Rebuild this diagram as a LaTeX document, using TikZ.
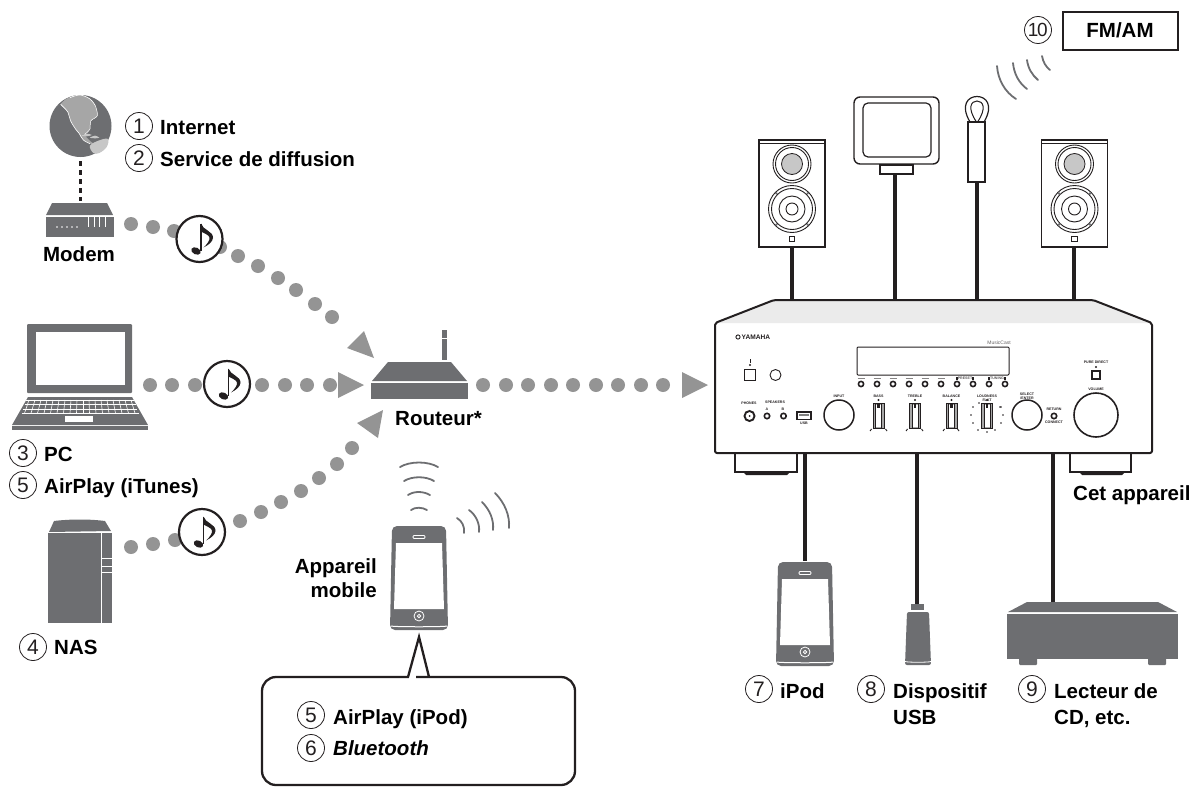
\documentclass[tikz,border=0pt]{standalone}
\usepackage{fontspec}
\setmainfont{Liberation Sans}
\definecolor{devgray}{HTML}{6D6E71}
\definecolor{dotgray}{HTML}{949494}
\definecolor{ink}{HTML}{231F20}
\tikzset{
  lbl/.style={font=\fontsize{20.5}{20.5}\selectfont\bfseries,text=black,inner sep=0pt,anchor=base west},
  cnum/.style={circle,draw=ink,line width=0.8pt,minimum size=27pt,inner sep=0pt,font=\fontsize{21}{21}\selectfont,text=ink},
  dotn/.style={circle,fill=dotgray,minimum size=14pt,inner sep=0pt},
  notec/.style={circle,draw=ink,fill=white,line width=2.2pt,minimum size=46pt,inner sep=0pt},
  arrowtri/.style={fill=dotgray,draw=none},
  dev/.style={fill=devgray,draw=none},
  cable/.style={draw=ink,line width=4pt},
  wave/.style={draw=devgray,line width=1.8pt,line cap=round},
  tiny/.style={font=\fontsize{3.6}{3.6}\selectfont\bfseries,text=ink,inner sep=0pt},
  notepic/.pic={
    \fill[ink,rotate around={-25:(-3.5,12)}] (-3.5,12) ellipse (5 and 3.4);
    \fill[ink] (0.6,11.5) -- (0.6,-15.5) -- (2,-15.5) -- (2,11.5) -- cycle;
    \fill[ink] (1.5,-15.5) .. controls (3,-9) and (14,-8) .. (13.5,-1) .. controls (13,3) and (9,6) .. (4,8.5) .. controls (8,5) and (10.5,1) .. (10,-1.5) .. controls (9.5,-4) and (5,-5.5) .. (1.5,-7.5) -- cycle;
  },
  phonepic/.pic={
    \fill[devgray,rounded corners=5pt] (-27,0) -- (27,0) -- (29,104) -- (-29,104) -- cycle;
    \draw[white,line width=1pt] (-28,100) .. controls (-26,101) and (26,101) .. (28,100);
    \fill[white] (-23,17) -- (23,17) -- (25,83) -- (-25,83) -- cycle;
    \draw[white,line width=0.8pt,rounded corners=1pt] (-6,9.5) rectangle (6,12.5);
    \draw[white,line width=0.8pt] (0,90) circle (5);
    \draw[white,line width=0.8pt] (0,90) circle (1.7);
  },
  speakerpic/.pic={
    \draw[ink,line width=1.1pt,fill=white] (-33,0) rectangle (33,107);
    \draw[ink,line width=0.9pt] (-33,3) -- (33,3);
    \draw[ink,line width=0.9pt] (0,24) circle (19);
    \draw[ink,line width=0.9pt] (0,24) circle (16.5);
    \draw[ink,line width=0.8pt,fill=black!22] (0,24) circle (10.5);
    \draw[ink,line width=0.9pt] (0,69) circle (23.5);
    \draw[ink,line width=0.9pt] (0,69) circle (20.5);
    \draw[ink,line width=0.9pt] (0,69) circle (13);
    \draw[ink,line width=0.9pt] (0,69) circle (6);
    \foreach \a in {45,135,225,315}{\fill[devgray] (\a:22) ++(0,69) circle (1.3);}
    \draw[ink,line width=0.8pt] (-2.7,96) rectangle (2.7,101.5);
  },
  sliderpic/.pic={
    \draw[ink,line width=1pt,fill=black!35] (-5.5,0) rectangle (5.5,25);
    \fill[white] (-3,1.5) rectangle (3,24);
    \draw[ink,line width=0.7pt] (-3,0) -- (-3,25) (3,0) -- (3,25);
    \fill[ink] (-1.3,0) rectangle (1.3,5);
    \fill[ink] (0,-3) circle (1.1);
  }
}
\begin{document}
\begin{tikzpicture}[x=1pt,y=-1pt]
\useasboundingbox (0,0) rectangle (1193,787);

% ---------- Globe
\node[circle,fill=devgray,minimum size=62pt,inner sep=0pt] (globe) at (80.5,126) {};
\begin{scope}[shift={(40,85)},x=0.3333pt,y=-0.3333pt]
  \fill[black!35] plot[smooth cycle,tension=0.6] coordinates {(62,58) (85,38) (120,30) (150,42) (166,62) (172,92) (152,108) (150,132) (134,148) (118,146) (108,134) (92,108) (84,82) (72,68)};
  \fill[black!35] plot[smooth cycle,tension=0.6] coordinates {(118,146) (132,150) (150,168) (160,176) (150,176) (130,165)};
  \fill[black!22] plot[smooth cycle,tension=0.6] coordinates {(150,182) (178,166) (204,162) (200,186) (178,204) (160,204)};
  \fill[black!22] plot[smooth cycle] coordinates {(125,152) (140,146) (155,150) (140,154)};
  \fill[black!22] plot[smooth cycle] coordinates {(150,158) (165,152) (178,158) (165,160)};
  \draw[white,line width=0.6pt] plot[smooth,tension=0.6] coordinates {(62,58) (72,68) (84,82) (92,108) (108,134) (118,146) (130,165) (150,176)};
  \draw[white,line width=0.6pt] plot[smooth,tension=0.6] coordinates {(90,38) (120,30) (150,42) (166,62)};
  \draw[white,line width=0.5pt] plot[smooth,tension=0.6] coordinates {(166,62) (172,92) (152,108) (150,132) (134,148)};
\end{scope}

% ---------- Modem
\coordinate (modemTop) at (80.5,201);
\fill[dev] (46,215) -- (52,203) -- (107,203) -- (113,215) -- cycle;
\fill[dev] (46,217) rectangle (114,237);
\foreach \x in {57,62,67,72,77}{\fill[white] (\x,227) circle (0.9);}
\foreach \x in {88,94,99,105}{\draw[white,line width=0.7pt] (\x,217) -- (\x,227);}
\draw[ink,line width=2.2pt,dash pattern=on 5pt off 4pt] (globe.south) ++(0,4) -- (modemTop);
\node[lbl,anchor=base] (modemL) at (79,261) {Modem};

\node[cnum] (c1) at (139,126) {1};
\node[cnum] (c2) at (139,158) {2};
\node[lbl] (t1) at (160,134) {Internet};
\node[lbl] (t2) at (160,166) {Service de diffusion};

% ---------- dotted routes
\foreach \p in {(131,224),(153,227),(174,231),(220,247),(238,256),(258,266),(278,278),(296,290),(315,304),(332,317)}
  \node[dotn] at \p {};
\fill[arrowtri] (364,331) -- (347,348) -- (374,358) -- cycle;
\node[notec] (note1) at (199.5,239) {};
\pic at (note1) {notepic};

\foreach \x in {150,172,195,262,285,307,330}
  \node[dotn] at (\x,385) {};
\fill[arrowtri] (338,372) -- (338,398) -- (364,385) -- cycle;
\node[notec] (note2) at (227,384) {};
\pic at (note2) {notepic};

\foreach \p in {(131,547),(153,544),(175,540),(240,521),(261,512),(281,502),(301,491),(319,478),(337,464),(352,448)}
  \node[dotn] at \p {};
\fill[arrowtri] (383,410) -- (357,423) -- (378,438) -- cycle;
\node[notec] (note3) at (202,532) {};
\pic at (note3) {notepic};

\foreach \x in {483,506,528,551,573,596,618,641,663}
  \node[dotn] at (\x,385) {};
\fill[arrowtri] (682,372) -- (682,398) -- (708,385) -- cycle;

% ---------- Laptop
\fill[dev,rounded corners=1pt] (27,324) rectangle (132,393);
\fill[white] (36,332) rectangle (125,385);
\fill[dev] (28,397) -- (132,397) -- (148,425) -- (12,425) -- cycle;
\fill[dev] (12,426) rectangle (148,430);
\foreach \i in {0,...,3}{\draw[white,line width=0.6pt] ({26-\i*1.5},{400+\i*4.4}) -- ({134+\i*1.5},{400+\i*4.4});}
\foreach \i in {0,...,17}{\draw[white,line width=0.6pt] ({29+\i*6},400) -- ({24.5+\i*6.5},413.2);}
\fill[white] (65,416) rectangle (93,422);
\node[cnum] (c3) at (23,453) {3};
\node[cnum] (c5a) at (23,485) {5};
\node[lbl] (t3) at (44,461) {PC};
\node[lbl] (t5a) at (44,493) {AirPlay (iTunes)};

% ---------- NAS
\fill[dev] (49,532) -- (54,521) .. controls (70,519) and (90,519) .. (105,521) -- (111,531) -- cycle;
\fill[dev] (48,533) rectangle (112,623);
\draw[white,line width=0.7pt] (49,532.5) -- (111,532.5);
\draw[white,line width=0.7pt] (101,533) -- (101,623);
\foreach \y in {558,566,572}{\draw[white,line width=0.7pt] (101,\y) -- (112,\y);}
\node[cnum] (c4) at (33,647) {4};
\node[lbl] (t4) at (54,654) {NAS};

% ---------- Router
\fill[dev] (372,381) -- (388,362) -- (451,362) -- (467,381) -- cycle;
\fill[dev] (371,383) rectangle (468,399);
\fill[dev] (442,330) rectangle (447,360);
\draw[white,line width=0.7pt] (442,338) -- (447,338);
\node[lbl] (router) at (395,425) {Routeur*};

% ---------- Mobile device
\draw[wave] (400,467) .. controls (410,461) and (428,461) .. (438,467);
\draw[wave] (404,481) .. controls (412,476) and (426,476) .. (434,481);
\draw[wave] (408,495) .. controls (414,491) and (423,491) .. (430,495);
\draw[wave] (411,510) .. controls (415,507) and (422,507) .. (427,510);
\draw[wave] (457,518) .. controls (462,521) and (465,527) .. (464,533);
\draw[wave] (469,510) .. controls (476,515) and (480,524) .. (479,532);
\draw[wave] (482,502) .. controls (490,510) and (494,520) .. (493,530);
\draw[wave] (495,493) .. controls (505,503) and (510,516) .. (509,528);
\pic at (419,526) {phonepic};
\coordinate (mobileBottom) at (419,637);
\node[lbl,anchor=base east] (app1) at (377,573) {Appareil};
\node[lbl,anchor=base east] (app2) at (377,597) {mobile};

% ---------- Callout
\draw[draw=ink,line width=2.3pt,line join=miter] (mobileBottom) -- (408,677) -- (407,677) [rounded corners=14pt] -- (262,677) -- (262,785) -- (575,785) -- (575,677) -- (430,677) [sharp corners] -- (429,677) -- cycle;
\node[cnum] (c5b) at (311,715) {5};
\node[cnum] (c6) at (311,748) {6};
\node[lbl] (t5b) at (333,724) {AirPlay (iPod)};
\node[lbl,font=\fontsize{20.5}{20.5}\selectfont\bfseries\itshape] (t6) at (333,755) {Bluetooth};

% ---------- Speakers and antennas
\pic at (792,140) {speakerpic};
\pic at (1074.5,140) {speakerpic};
\coordinate (spkL) at (791.5,247);
\coordinate (spkR) at (1074,247);
\draw[line width=1.4pt,draw=ink,rounded corners=6pt,fill=white] (854,97) rectangle (939,164);
\draw[line width=1.2pt,draw=ink,rounded corners=5pt] (863,103) rectangle (931,157);
\draw[line width=1.1pt,draw=ink] (880,165) rectangle (913,174);
\coordinate (amAnt) at (895,174);
\draw[line width=1.1pt,draw=ink] (968,122) rectangle (985,182);
\draw[line width=1.2pt,draw=ink] (970,122) .. controls (960,105) and (968,96.5) .. (977,96.5) .. controls (986,96.5) and (994,105) .. (984,122);
\draw[line width=1pt,draw=ink] (976.5,122) .. controls (967,108) and (971,101) .. (977,101) .. controls (983,101) and (987,108) .. (977.5,122);
\coordinate (fmAnt) at (977,182);

\draw[wave] (1042,56) .. controls (1043,62) and (1046,67) .. (1050,70);
\draw[wave] (1027,60) .. controls (1028,68) and (1032,75) .. (1038,80);
\draw[wave] (1013,63) .. controls (1014,74) and (1019,83) .. (1027,89);
\draw[wave] (997,66) .. controls (998,80) and (1005,92) .. (1016,99);
\node[cnum] (c10) at (1038,30) {\kern-0.5pt\fontsize{19}{19}\selectfont 1\kern-1.5pt 0};
\node[draw=ink,line width=2pt,minimum width=115pt,minimum height=38pt,inner sep=0pt,font=\fontsize{20.5}{20.5}\selectfont\bfseries] (fmam) at (1120,30.5) {FM/AM};

% ---------- Amplifier
\fill[black!8] (774,300) -- (1093,300) -- (1152,323) -- (715,323) -- cycle;
\draw[ink,line width=2pt,line join=round,rounded corners=2pt] (774,300) -- (1093,300) -- (1152,323) -- (1152,453) -- (715,453) -- (715,323) -- cycle;
\coordinate (ampT1) at (791.5,300);
\coordinate (ampT2) at (895,300);
\coordinate (ampT3) at (977,300);
\coordinate (ampT4) at (1074,300);
\coordinate (ampB1) at (805,454);
\coordinate (ampB2) at (917,454);
\coordinate (ampB3) at (1053,454);
\draw[cable] (spkL) -- (ampT1);
\draw[cable] (amAnt) -- (ampT2);
\draw[cable] (fmAnt) -- (ampT3);
\draw[cable] (spkR) -- (ampT4);
% feet
\draw[ink,line width=1.4pt] (735,454) -- (735,472) -- (797,472) -- (797,454);
\fill[ink] (743,472) -- (790,472) -- (787,475) -- (746,475) -- cycle;
\draw[ink,line width=1.4pt] (1070,454) -- (1070,472) -- (1131,472) -- (1131,454);
\fill[ink] (1079,472) -- (1125,472) -- (1122,475) -- (1082,475) -- cycle;
% panel top row
\draw[ink,line width=0.9pt,fill=white] (738,337) circle (2.1);
\node[tiny,anchor=west,font=\fontsize{6.6}{6.6}\selectfont\bfseries] (yam) at (741.5,337) {YAMAHA};
\node[tiny,font=\fontsize{5}{5}\selectfont,text=ink!70] (mc) at (999,342.5) {MusicCast};
\draw[ink,line width=1pt,rounded corners=1pt] (857,347) rectangle (1009,375);
\draw[ink,line width=1.7pt] (744.5,369.5) rectangle (755.5,380.5);
\fill[ink] (750,365) circle (1.1);
\draw[ink,line width=0.4pt] (750,359) -- (750,363);
\draw[ink,line width=0.9pt] (775.5,375) circle (5.5);
\foreach \x in {861,877,893,909,925,941,957,973,989,1005}{
  \draw[ink,line width=1.6pt] (\x,384) circle (2.6);
}
\foreach \x in {861,877,893,909,925,941}{
  \draw[ink!55,line width=0.8pt] ({\x-3.5},378) -- ({\x+3.5},378);
}
\foreach \x in {957,973,989,1005}{\fill[ink] ({\x-0.9},376.5) rectangle ({\x+0.9},380);}
\node[tiny,text=ink!75] (prst) at (965,378) {PRESET};
\node[tiny,text=ink!75] (tun) at (997,378) {TUNING};
% lower row
\node[tiny] (phn) at (749,403) {PHONES};
\node[tiny] (spks) at (775,402.5) {SPEAKERS};
\node[tiny] (spa) at (767,409) {A};
\node[tiny] (spb) at (783,409) {B};
\draw[ink,line width=1.9pt] (749.5,416) circle (5);
\fill[ink] (749.5,416) circle (1);
\draw[ink,line width=1.6pt] (767,416) circle (2.7);
\draw[ink,line width=1.6pt] (783.5,416) circle (2.7);
\draw[ink,line width=1.1pt] (797,412) rectangle (811,419.5);
\fill[black!50] (799,414) rectangle (809,416);
\node[tiny] (usbl) at (804,423) {USB};
\draw[ink,line width=1.5pt] (839,415) circle (15);
\node[tiny] (inp) at (839,396) {INPUT};
\node[tiny] (bass) at (878.5,396) {BASS};
\node[tiny] (treb) at (915,396) {TREBLE};
\node[tiny] (bal) at (951.5,396) {BALANCE};
\node[tiny] (loud) at (987,396) {LOUDNESS};
\node[tiny] (flat) at (987,400) {FLAT};
\pic at (878.5,403) {sliderpic};
\pic at (915,403) {sliderpic};
\pic at (951.5,403) {sliderpic};
\pic at (987,403) {sliderpic};
\foreach \x in {870,906,943}{\draw[ink,line width=0.9pt] (\x,431) -- ({\x+1.5},429);}
\foreach \x in {887,923,959}{\draw[ink,line width=0.9pt] (\x,431) -- ({\x-1.5},429);}
\foreach \p in {(973,407),(971,415),(973,423),(978,430),(987,432),(995,430),(1001,423),(1003,415),(1001,407),(979,403),(1000,407)}
  \fill[ink] \p circle (0.9);
\node[tiny] (sel) at (1027,394.5) {SELECT};
\node[tiny] (ent) at (1027,398) {/ENTER};
\draw[ink,line width=1.5pt] (1027,415) circle (15);
\node[tiny] (ret) at (1054,409.5) {RETURN};
\draw[ink,line width=1.6pt] (1054,416) circle (2.7);
\node[tiny] (con) at (1054,422.5) {CONNECT};
\node[tiny] (vol) at (1096,389) {VOLUME};
\draw[ink,line width=1.6pt] (1096,415) circle (22);
\node[tiny] (pd) at (1096,362.5) {PURE DIRECT};
\fill[ink] (1096,367) circle (1.1);
\draw[ink,line width=1.1pt] (1092,371) rectangle (1100,379);
\node[lbl] (cet) at (1073,500) {Cet appareil};

% ---------- Devices below
\pic at (805,562) {phonepic};
\coordinate (ipodTop) at (805,561);
\draw[cable] (ampB1) -- (ipodTop);
\node[cnum] (c7) at (759,689) {7};
\node[lbl] (t7) at (780,698) {iPod};

\fill[dev] (911,604) rectangle (924,610);
\fill[dev,rounded corners=2pt] (907,612) -- (929,612) -- (931,665) -- (905,665) -- cycle;
\draw[white,line width=0.8pt] (905,661.5) .. controls (908,662.5) and (928,662.5) .. (931,661.5);
\coordinate (usbTop) at (917,604);
\draw[cable] (ampB2) -- (usbTop);
\node[cnum] (c8) at (871,689) {8};
\node[lbl] (t8) at (893,698) {Dispositif};
\node[lbl] (t8b) at (893,724) {USB};

\fill[dev] (1008,612) -- (1027,602) -- (1158,602) -- (1177,612) -- cycle;
\fill[dev] (1007,613.5) rectangle (1178,659);
\fill[dev,rounded corners=1pt] (1019,658) rectangle (1037,665);
\fill[dev,rounded corners=1pt] (1148,658) rectangle (1166,665);
\coordinate (cdTop) at (1053,602);
\draw[cable] (ampB3) -- (cdTop);
\node[cnum] (c9) at (1032,689) {9};
\node[lbl] (t9) at (1054,698) {Lecteur de};
\node[lbl] (t9b) at (1054,724) {CD, etc.};
\end{tikzpicture}
\end{document}
